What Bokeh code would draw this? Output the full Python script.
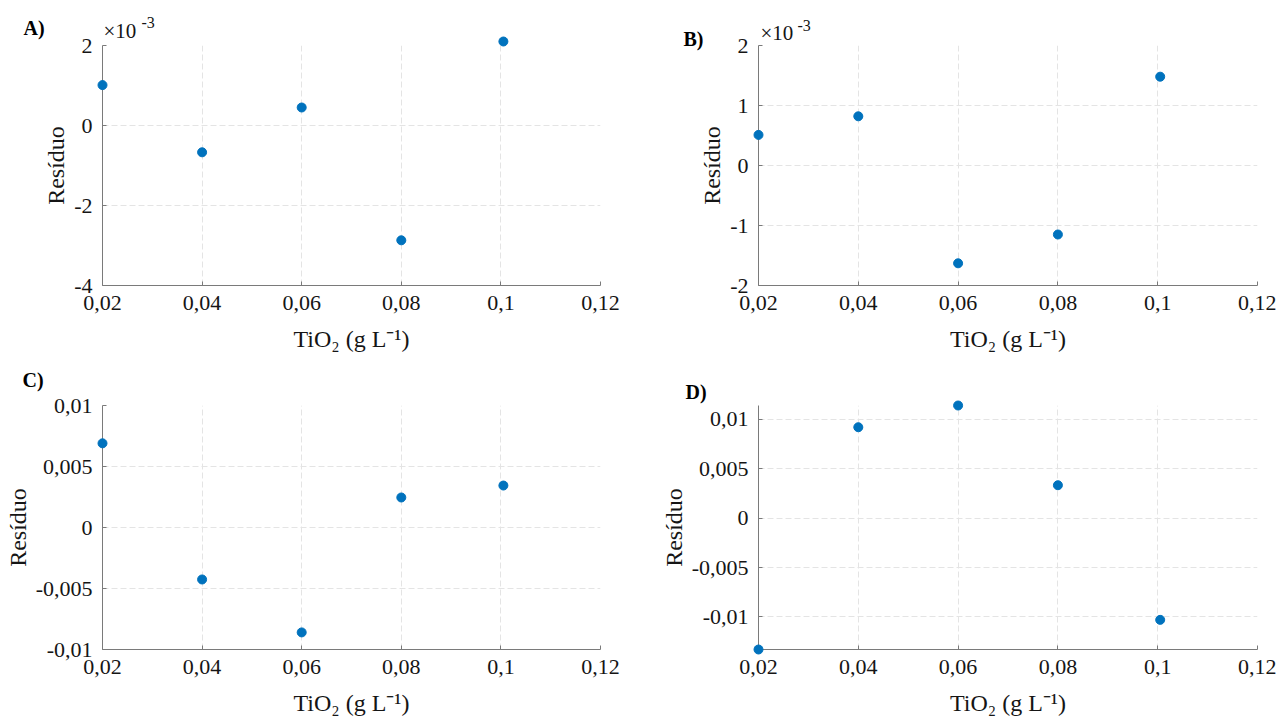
from bokeh.plotting import figure
from bokeh.layouts import column, row
from bokeh.models import FixedTicker, CustomJSTickFormatter, Range1d
from bokeh.core.properties import value
from bokeh.embed import file_html
from bokeh.resources import INLINE

# ---- data ----
tio2 = [0.02, 0.04, 0.06, 0.08, 0.1005]
res_a = [1.01e-3, -0.67e-3, 0.45e-3, -2.87e-3, 2.10e-3]
res_b = [0.51e-3, 0.82e-3, -1.63e-3, -1.15e-3, 1.48e-3]
res_c = [6.9e-3, -4.26e-3, -8.6e-3, 2.46e-3, 3.44e-3]
res_d = [-13.3e-3, 9.2e-3, 11.4e-3, 3.33e-3, -10.3e-3]
x_ticks = [0.02, 0.04, 0.06, 0.08, 0.1, 0.12]
yticks_a = [-4, -2, 0, 2]          # x 10^-3
yticks_b = [-2, -1, 0, 1, 2]       # x 10^-3
yticks_cd = [-0.01, -0.005, 0, 0.005, 0.01]
panel_letters = ["A)", "B)", "C)", "D)"]
x_label = "TiO\u2082 (g L\u207b\u00b9)"
y_label = "Resíduo"

FONT = "Liberation Serif"
TXT = "#151515"
DOT = "#0072BD"

fmt_code = "return tick.toString().replace('.', ',');"


def note(p, x, y, txt, dx, dy, size, bold=False):
    r = p.text(x=[x], y=[y], text=[txt], x_offset=dx, y_offset=dy,
               text_font=value(FONT), text_font_size=value(size),
               text_font_style="bold" if bold else "normal",
               text_color=TXT if not bold else "black",
               text_align="left", text_baseline="middle")
    r.level = "overlay"
    return r


def panel(ys, yr, yticks, w, h, bl, br, bt, bb, letter, loff, exp_off=None):
    p = figure(width=w, height=h, output_backend="svg", toolbar_location=None,
               x_range=Range1d(0.02, 0.12), y_range=Range1d(*yr),
               min_border_left=bl, min_border_right=br,
               min_border_top=bt, min_border_bottom=bb)
    p.outline_line_color = None
    p.background_fill_color = "white"
    p.border_fill_color = "white"
    p.xaxis.ticker = FixedTicker(ticks=x_ticks)
    p.yaxis.ticker = FixedTicker(ticks=yticks)
    for ax in (p.xaxis[0], p.yaxis[0]):
        ax.formatter = CustomJSTickFormatter(code=fmt_code)
        ax.major_tick_in = 4
        ax.major_tick_out = 0
        ax.minor_tick_line_color = None
        ax.axis_line_color = "#7a7a7a"
        ax.major_tick_line_color = "#7a7a7a"
        ax.major_label_text_font = FONT
        ax.major_label_text_font_size = "22px"
        ax.major_label_text_color = TXT
        ax.axis_label_text_font = FONT
        ax.axis_label_text_font_size = "24px"
        ax.axis_label_text_font_style = "normal"
        ax.axis_label_text_color = TXT
    p.xaxis.axis_label = x_label
    p.yaxis.axis_label = y_label
    p.xaxis.major_label_standoff = 10
    p.xaxis.axis_label_standoff = 13
    p.yaxis.major_label_standoff = 10
    p.yaxis.axis_label_standoff = 2
    p.grid.grid_line_color = "#e4e4e4"
    p.grid.grid_line_dash = "6 3"
    p.grid.grid_line_width = 1
    r = p.scatter(tio2, ys, size=9, color=DOT, line_color=DOT)
    r.level = "overlay"
    x0, y1 = 0.02, yr[1]
    note(p, x0, y1, letter, loff[0], loff[1], "20px", bold=True)
    if exp_off is not None:
        note(p, x0, y1, "\u00d710", exp_off[0], exp_off[1], "21px")
        note(p, x0, y1, "-3", exp_off[2], exp_off[3], "16px")
    return p


pa = panel([v * 1e3 for v in res_a], (-4, 2), yticks_a, 640, 362, 102, 40, 45, 75,
           panel_letters[0], (-79, -18), (1, -15, 39, -23))
pb = panel([v * 1e3 for v in res_b], (-2, 2), yticks_b, 636, 362, 118, 19, 42, 77,
           panel_letters[1], (-75, -7), (2, -12.5, 39, -20))
pc = panel(res_c, (-0.01, 0.01), yticks_cd, 640, 358, 102, 40, 43, 71,
           panel_letters[2], (-80, -26))
pd_ = panel(res_d, (min(res_d), max(res_d)), yticks_cd, 636, 358, 118, 19, 43, 71,
            panel_letters[3], (-73, -14))

layout = column(row(pa, pb), row(pc, pd_))

open("out.html", "w").write(file_html(layout, INLINE))
